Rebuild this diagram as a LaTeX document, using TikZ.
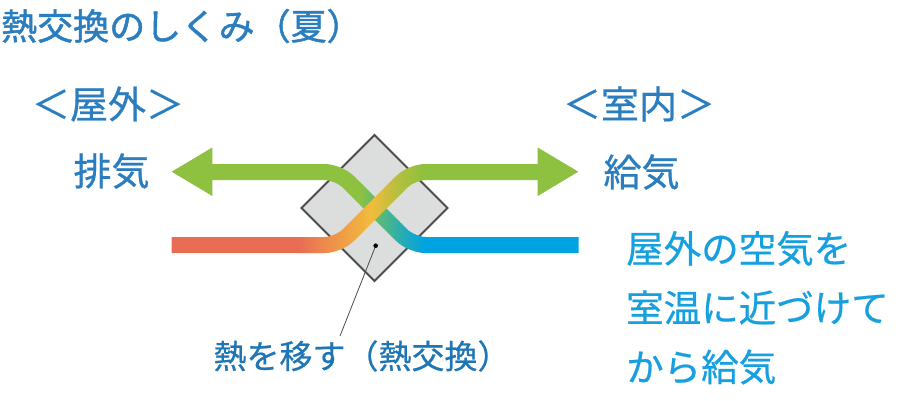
\documentclass[tikz,border=0pt]{standalone}
\usepackage{fontspec}
\setmainfont{Noto Sans CJK JP}
\newfontfamily\jpm{Noto Sans CJK JP}[FakeBold=0.6]
\newfontfamily\jpt{Noto Sans CJK JP}[FakeBold=1.3]
\definecolor{cRed}{HTML}{E96D54}
\definecolor{cOrange}{HTML}{EF9A48}
\definecolor{cYellow}{HTML}{F1BC3C}
\definecolor{cOlive}{HTML}{B3BE3E}
\definecolor{cGreen}{HTML}{8DC13F}
\definecolor{cGT}{HTML}{4DB887}
\definecolor{cTeal}{HTML}{22AABB}
\definecolor{cBlue}{HTML}{00A3E2}
\definecolor{tMid}{HTML}{2A7EBF}
\definecolor{tDark}{HTML}{1F76B4}
\definecolor{tLight}{HTML}{17A0E0}
\definecolor{boxFill}{HTML}{DCDDDD}
\definecolor{boxLine}{HTML}{4D4D4D}
\tikzset{
  band/.style={line width=16pt, rounded corners=14pt, line cap=butt},
  ttl/.style={inner sep=0pt, text=tMid, anchor=west, font=\jpt\fontsize{36}{40}\selectfont},
  lbl/.style={inner sep=0pt, text=tMid, font=\jpm\fontsize{38}{44}\selectfont},
  note/.style={inner sep=0pt, text=tLight, font=\jpm\fontsize{37.5}{42}\selectfont, anchor=west},
  captxt/.style={inner sep=0pt, text=tDark, font=\jpm\fontsize{33}{40}\selectfont},
}
% gradient segment of a band: #1 path, #2 x1, #3 x2, #4 c1, #5 c2, #6 steps
\newcommand\gseg[6]{%
  \foreach \k in {1,...,#6}{%
    \pgfmathsetmacro\xa{#2+(#3-#2)*(\k-1)/#6}%
    \pgfmathsetmacro\xb{#2+(#3-#2)*\k/#6+0.7}%
    \pgfmathsetmacro\pc{100*(\k-0.5)/#6}%
    \begin{scope}
      \clip (\xa,100) rectangle (\xb,300);
      \draw[band, draw={#5!\pc!#4}] #1;
    \end{scope}
  }}
\newcommand\sseg[4]{%
  \begin{scope}
    \clip (#2,100) rectangle (#3,300);
    \draw[band, draw=#4] #1;
  \end{scope}}
\begin{document}
\begin{tikzpicture}[x=1pt,y=-1pt]
\useasboundingbox (0,0) rectangle (920,400);
\fill[white] (0,0) rectangle (920,400);

% heat exchanger core
\draw[fill=boxFill, draw=boxLine, line width=2pt, line join=miter]
  (374.5,135) -- (447.5,208) -- (374.5,281) -- (301.5,208) -- cycle;

% exhaust band (indoor -> outdoor)
\def\PA{(578.5,245) -- (411.5,245) -- (338.5,172) -- (210,172)}
\sseg{\PA}{160}{360.5}{cGreen}
\gseg{\PA}{360}{385}{cGreen}{cGT}{12}
\gseg{\PA}{385}{405}{cGT}{cTeal}{10}
\gseg{\PA}{405}{425}{cTeal}{cBlue}{10}
\sseg{\PA}{425}{590}{cBlue}
\fill[cGreen] (171.7,171.7) -- (212.3,147.5) -- (212.3,196) -- cycle;

% supply band (outdoor -> indoor)
\def\PB{(171.7,245) -- (338.5,245) -- (411.5,172) -- (540,172)}
\sseg{\PB}{160}{300.5}{cRed}
\gseg{\PB}{300}{340}{cRed}{cOrange}{20}
\gseg{\PB}{340}{372}{cOrange}{cYellow}{16}
\gseg{\PB}{372}{400}{cYellow}{cOlive}{14}
\gseg{\PB}{400}{425}{cOlive}{cGreen}{12}
\sseg{\PB}{425}{560}{cGreen}
\fill[cGreen] (578.3,171.7) -- (537.7,147.5) -- (537.7,196) -- cycle;

% texts
\node[ttl] (title) at (1,26) {熱交換のしくみ（夏）};
\node[lbl] (outside) at (108,104) {＜屋外＞};
\node[lbl] (inside) at (639,104) {＜室内＞};
\node[lbl] (exhaust) at (111.5,171) {排気};
\node[lbl] (supply) at (641.5,172) {給気};
\node[note] (n1) at (626,248.5) {屋外の空気を};
\node[note] (n2) at (626,307.5) {室温に近づけて};
\node[note] (n3) at (626,367) {から給気};
\node[captxt] (caption) at (362,356) {熱を移す（熱交換）};

% leader
\coordinate (dot) at (375.7,245.7);
\coordinate (lead) at (340,336);
\draw[line width=0.8pt, draw=black!70] (dot) -- (lead);
\fill[black] (dot) circle (2.3);
\end{tikzpicture}
\end{document}
